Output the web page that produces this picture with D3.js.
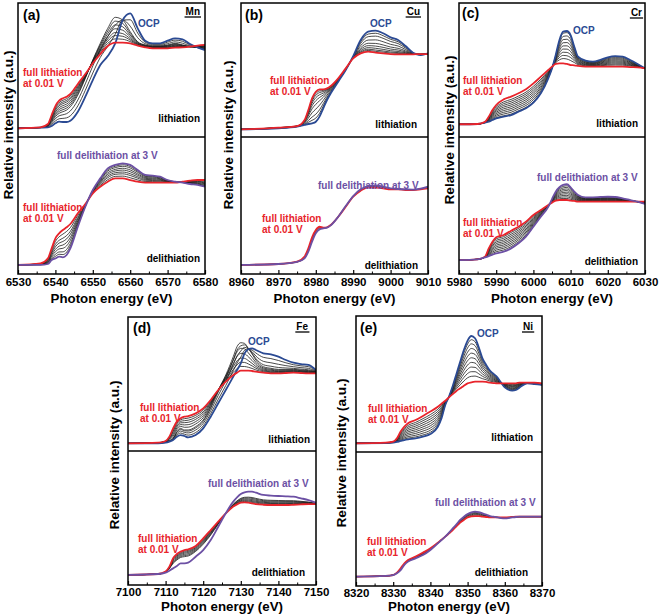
<!DOCTYPE html>
<html>
<head>
<meta charset="utf-8">
<script src="https://cdn.jsdelivr.net/npm/d3@7"></script>
<style>
  body { margin: 0; background: #fff; }
  svg { display: block; font-family: "Liberation Sans", Arial, sans-serif; font-weight: bold; }
</style>
</head>
<body>
<svg id="chart" width="660" height="615"></svg>
<script>
// ---- data (relative intensity, % of sub-panel height) ----

// (a) Mn K-edge
const energyMn = [6530,6536,6538,6539,6540,6541,6542,6543,6544,6546,6548,6550,6552,6554,6556,6558,6560,6562,6564,6566,6568,6570,6572,6574,6576,6578,6580];
const mnLithOcp  = [6.5,7.0,7.2,8.2,10.2,11.4,11.2,11.2,12.2,18.9,30.1,42.5,53.7,60.4,69.9,87.3,92.3,81.1,71.9,69.9,69.9,71.9,73.6,72.9,69.4,66.9,64.9];
const mnLithMid  = [6.5,7.0,8.2,11.4,15.2,17.7,18.9,20.1,22.6,31.3,43.8,57.5,69.9,81.1,89.3,87.3,78.6,71.1,68.7,67.9,67.9,68.7,69.9,68.7,67.4,66.7,66.2];
const mnLithFull = [6.5,7.2,9.7,16.4,23.1,27.1,28.9,30.1,32.1,39.6,47.0,55.0,61.9,67.9,70.4,70.4,69.9,68.2,66.9,66.2,66.2,66.2,66.7,66.9,67.4,68.2,68.7];
const mnDelithStart = [6.6,7.8,11.4,18.7,26.0,29.7,32.1,34.1,36.5,44.3,51.1,58.9,63.7,67.4,69.8,69.8,68.6,67.4,66.7,66.7,66.7,66.7,66.7,67.4,68.1,68.6,68.6];
const mnDelithEnd   = [6.6,6.6,7.3,10.2,11.4,12.7,12.2,13.9,18.7,34.5,49.1,61.3,69.8,77.1,79.6,80.8,79.6,75.9,72.3,71.8,71.0,68.6,67.4,66.7,65.7,65.0,63.7];
const mnLithSteps   = [0.35,0.7,1.0,1.15,1.3,1.45,1.6,1.72,1.85];
const mnDelithSteps = [0.15,0.3,0.42,0.55,0.67,0.8,0.9];

// (b) Cu K-edge
const energyCu = [8960,8970,8975,8977,8978,8979,8980,8981,8982,8983,8984,8986,8988,8990,8992,8994,8996,8998,9000,9002,9004,9006,9008,9010];
const cuLithOcp  = [5.7,6.5,7.7,9.0,9.7,10.2,11.4,15.2,21.4,27.6,32.6,41.3,50.0,60.4,72.4,78.6,79.4,77.4,74.4,72.4,67.9,62.9,61.2,62.4];
const cuLithFull = [5.7,7.0,8.2,12.7,20.1,28.9,33.8,35.6,35.6,36.3,38.1,43.8,51.2,58.7,62.4,63.7,62.9,62.4,61.9,61.7,61.7,61.7,61.9,61.9];
const cuDelithStart = [6.6,7.3,9.0,12.7,18.7,26.8,32.1,34.5,33.8,34.1,35.8,41.8,49.1,56.4,60.8,63.3,63.0,62.5,61.8,61.8,61.3,61.3,61.8,62.5];
const cuDelithEnd   = [6.6,7.3,8.8,11.4,16.3,23.6,29.7,32.6,33.3,33.8,35.5,41.8,49.6,56.9,61.8,64.2,64.7,63.7,62.5,62.0,61.8,61.6,62.3,63.7];
const cuLithSteps   = [0.12,0.25,0.42,0.58,0.7,0.8,0.88,0.94];
const cuDelithSteps = [0.33,0.66];

// (c) Cr K-edge
const energyCr = [5980,5985,5987,5988,5989,5990,5992,5994,5996,5998,6000,6002,6004,6005,6006,6007,6008,6009,6010,6011,6012,6014,6016,6018,6020,6022,6024,6026,6028,6030];
const crLithOcp  = [9.5,9.7,10.7,11.4,12.7,13.9,15.2,16.4,18.9,21.4,25.6,32.6,43.8,51.2,61.2,72.4,78.6,79.1,76.1,67.4,59.9,57.0,56.2,57.5,59.5,60.4,59.9,57.5,54.5,51.2];
const crLithFull = [9.5,9.7,11.4,15.2,20.1,23.9,28.1,30.1,32.6,35.6,40.0,45.0,50.0,52.5,54.5,55.0,55.0,54.5,53.7,53.5,53.0,52.5,52.5,52.5,52.5,52.5,52.5,52.2,52.0,51.2];
const crDelithStart = [10.2,10.7,12.7,18.7,23.6,26.8,28.5,31.6,34.5,38.2,43.1,46.7,50.4,52.1,53.5,54.0,54.0,54.0,53.5,53.3,52.8,52.8,52.8,52.8,52.8,52.8,52.8,52.8,52.8,52.8];
const crDelithEnd   = [10.2,10.7,12.2,13.1,14.1,15.1,16.3,18.7,22.4,27.3,34.5,41.8,49.1,54.7,60.1,63.3,65.0,65.5,63.3,60.1,57.7,56.0,56.0,56.2,56.4,56.2,55.2,54.0,52.8,51.1];
const crLithSteps   = [0.05,0.15,0.25,0.35,0.45,0.55,0.65,0.75,0.85];
const crDelithSteps = [0.1,0.2,0.3,0.4,0.5,0.6,0.7,0.8,0.9];

// (d) Fe K-edge
const energyFe = [7100,7108,7110,7111,7112,7113,7114,7115,7116,7118,7120,7122,7124,7126,7128,7129,7130,7131,7132,7133,7134,7136,7138,7140,7142,7144,7146,7148,7150];
const feLithOcp  = [5.7,5.7,6.2,7.0,8.2,10.7,11.9,11.2,10.2,11.9,16.9,25.6,35.6,45.5,55.5,60.4,65.4,72.9,75.9,76.6,75.4,72.9,72.1,70.4,67.9,65.9,64.9,64.2,60.4];
const feLithMid  = [5.7,6.2,6.7,7.5,9.5,14.4,16.9,15.7,15.7,18.2,23.1,33.1,45.5,56.7,70.4,77.9,80.8,80.3,76.6,72.4,67.9,62.9,61.7,60.9,60.9,60.9,60.4,60.0,59.2];
const feLithFull = [5.7,6.2,7.5,10.7,16.9,21.9,24.4,25.6,26.1,28.1,31.8,38.1,45.5,51.7,56.7,58.5,60.0,60.0,60.0,59.7,59.2,58.5,58.0,58.0,58.2,58.5,58.2,58.0,58.0];
const feDelithStart = [7.5,8.2,10.0,13.7,19.9,23.1,24.9,26.1,26.6,29.1,34.8,41.0,47.3,53.5,58.5,60.2,61.4,61.7,61.4,60.9,60.4,59.9,59.7,59.7,59.7,59.9,60.2,60.4,60.4];
const feDelithEnd   = [7.5,8.2,9.2,10.7,12.4,14.2,16.2,16.2,16.7,21.1,26.1,33.6,43.5,53.5,62.2,65.4,67.9,69.2,69.7,69.7,68.9,67.2,66.7,66.4,66.2,65.9,64.7,63.4,61.4];
const feLithSteps   = [0.3,0.6,0.85,1.0,1.2,1.38,1.55,1.7,1.85];
const feDelithSteps = [0.08,0.16,0.24,0.33,0.42,0.5];

// (e) Ni K-edge
const energyNi = [8320,8328,8330,8331,8332,8333,8334,8336,8338,8340,8342,8343,8344,8345,8346,8347,8348,8349,8350,8351,8352,8353,8354,8355,8356,8357,8358,8359,8360,8362,8363,8364,8366,8368,8370];
const niLithOcp  = [6.4,6.6,6.9,7.4,8.1,8.8,9.3,10.0,11.3,13.2,18.6,24.8,34.6,40.7,48.5,57.4,66.4,75.0,81.9,85.3,83.6,77.0,68.9,64.0,59.8,57.4,54.9,51.0,47.5,45.1,45.6,47.5,50.5,50.0,49.3];
const niLithFull = [6.4,6.9,7.6,10.0,15.0,18.6,21.1,23.5,26.5,29.7,33.3,35.5,37.7,40.2,42.6,44.9,46.8,48.8,50.5,51.2,51.7,51.7,51.7,51.5,51.0,50.7,50.5,50.5,50.5,50.5,50.5,51.0,51.0,51.0,50.5];
const niDelithStart = [7.0,7.5,8.2,10.0,13.2,16.9,19.4,21.9,24.9,28.1,32.3,34.6,36.8,39.3,41.8,44.5,47.3,49.3,51.2,52.0,52.2,52.2,51.7,51.5,51.2,51.2,51.2,51.2,51.2,51.5,51.7,51.7,51.7,51.7,51.7];
const niDelithEnd   = [7.0,7.5,8.2,9.5,11.9,15.7,18.2,20.6,23.1,26.9,31.8,34.3,36.8,39.8,43.0,46.0,49.3,51.7,53.7,55.0,55.5,55.2,54.2,53.2,52.2,51.7,51.2,50.7,50.5,51.2,51.5,51.7,51.7,51.7,51.7];
const niLithSteps   = [0.08,0.17,0.27,0.37,0.47,0.57,0.67,0.77,0.87];
const niDelithSteps = [0.2,0.4,0.6,0.8];

// ---- colours ----
const RED = "#e8242b", BLUE = "#2b4a93", PURPLE = "#6c50a4", GREY = "#1c1c1c";

// ---- panel layout (frame position, annotation offsets relative to the frame) ----
const panels = [
  { tag: "(a)", el: "Mn", left: 18, top: 3, w: 187, h: 271, split: 134, energies: energyMn,
    lith: { anchors: [mnLithOcp, mnLithMid, mnLithFull], steps: mnLithSteps },
    delith: { anchors: [mnDelithStart, mnDelithEnd], steps: mnDelithSteps },
    yLab: [-10, 122], titleDy: 24, tickPad: 4,
    ann: { tag: [5, 12], el: [5, 8], ocp: [120, 20], lith: [5, 69], lithW: [5, 115], del3: [39, 152], lithB: [5, 204], delW: [5, 255] } },
  { tag: "(b)", el: "Cu", left: 241, top: 3, w: 187, h: 271, split: 134, energies: energyCu,
    lith: { anchors: [cuLithOcp, cuLithFull], steps: cuLithSteps },
    delith: { anchors: [cuDelithStart, cuDelithEnd], steps: cuDelithSteps },
    yLab: [-13, 132], titleDy: 24, tickPad: 4,
    ann: { tag: [4, 12], el: [8, 8], ocp: [129, 20], lith: [29, 77], lithW: [11, 121], del3: [77, 182], lithB: [21, 215], delW: [10, 262] } },
  { tag: "(c)", el: "Cr", left: 459, top: 3, w: 186, h: 271, split: 134, energies: energyCr,
    lith: { anchors: [crLithOcp, crLithFull], steps: crLithSteps },
    delith: { anchors: [crDelithStart, crDelithEnd], steps: crDelithSteps },
    yLab: [-10, 127], titleDy: 24, tickPad: 4,
    ann: { tag: [3, 10], el: [3, 9], ocp: [114, 27], lith: [4, 77], lithW: [7, 120], del3: [78, 174], lithB: [4, 219], delW: [7, 258] } },
  { tag: "(d)", el: "Fe", left: 128, top: 317, w: 188, h: 268, split: 134, energies: energyFe,
    lith: { anchors: [feLithOcp, feLithMid, feLithFull], steps: feLithSteps },
    delith: { anchors: [feDelithStart, feDelithEnd], steps: feDelithSteps },
    yLab: [-14, 138], titleDy: 21, tickPad: 3,
    ann: { tag: [5, 11], el: [8, 9], ocp: [120, 24], lith: [12, 90], lithW: [6, 122], del3: [80, 166], lithB: [10, 221], delW: [11, 255] } },
  { tag: "(e)", el: "Ni", left: 356, top: 316, w: 186, h: 270, split: 136, energies: energyNi,
    lith: { anchors: [niLithOcp, niLithFull], steps: niLithSteps },
    delith: { anchors: [niDelithStart, niDelithEnd], steps: niDelithSteps },
    yLab: [-15, 137], titleDy: 20, tickPad: 3,
    ann: { tag: [4, 12], el: [9, 10], ocp: [121, 17], lith: [12, 92], lithW: [9, 121], del3: [79, 186], lithB: [11, 225], delW: [14, 256] } }
];

const svg = d3.select("#chart");

// curve part-way along the chain of key spectra
function mix(anchors, s) {
  const i = Math.min(Math.floor(s), anchors.length - 2);
  const t = s - i;
  return anchors[i].map((v, k) => v * (1 - t) + anchors[i + 1][k] * t);
}

function label(g, x, y, txt, opts) {
  return g.append("text")
    .attr("x", x).attr("y", y).attr("dy", "0.35em")
    .attr("text-anchor", opts.anchor || "start")
    .style("font-size", (opts.size || 10) + "px")
    .attr("fill", opts.color || "#000")
    .text(txt);
}

panels.forEach((p, pi) => {
  const g = svg.append("g").attr("transform", `translate(${p.left},${p.top})`);
  const dom = d3.extent(p.energies);
  const x = d3.scaleLinear().domain(dom).range([0, p.w]);

  g.append("clipPath").attr("id", "clip" + pi)
    .append("rect").attr("width", p.w).attr("height", p.h);

  const subs = [
    { y0: 0, y1: p.split, set: p.lith, c0: BLUE, c1: RED },
    { y0: p.split, y1: p.h, set: p.delith, c0: RED, c1: PURPLE }
  ];

  subs.forEach(s => {
    const y = d3.scaleLinear().domain([0, 100]).range([s.y1, s.y0]);
    const line = d3.line()
      .x((d, i) => x(p.energies[i]))
      .y(d => y(d))
      .curve(d3.curveMonotoneX);
    const cg = g.append("g").attr("clip-path", `url(#clip${pi})`);

    s.set.steps.forEach(st => {
      cg.append("path")
        .attr("d", line(mix(s.set.anchors, st)))
        .attr("fill", "none").attr("stroke", GREY).attr("stroke-width", 0.8);
    });
    const first = s.set.anchors[0];
    const last = s.set.anchors[s.set.anchors.length - 1];
    cg.append("path").attr("d", line(first))
      .attr("fill", "none").attr("stroke", s.c0).attr("stroke-width", 1.8);
    cg.append("path").attr("d", line(last))
      .attr("fill", "none").attr("stroke", s.c1).attr("stroke-width", 1.8);
  });

  // frame + divider
  g.append("rect").attr("width", p.w).attr("height", p.h)
    .attr("fill", "none").attr("stroke", "#000").attr("stroke-width", 1.5);
  g.append("line").attr("x1", 0).attr("x2", p.w).attr("y1", p.split).attr("y2", p.split)
    .attr("stroke", "#000").attr("stroke-width", 1.5);

  // x axis, ticks pointing in
  const major = d3.range(dom[0], dom[1] + 1, 10);
  const minor = d3.range(dom[0] + 5, dom[1], 10);
  const ax = g.append("g").attr("transform", `translate(0,${p.h})`)
    .call(d3.axisBottom(x).tickValues(major).tickFormat(d3.format("d")).tickSize(-4).tickSizeOuter(0).tickPadding(p.tickPad));
  ax.select(".domain").remove();
  ax.selectAll("line").attr("stroke-width", 1.2);
  ax.selectAll("text").style("font-size", "11.5px").attr("fill", "#000")
    .style("font-family", '"Liberation Sans", Arial, sans-serif').style("font-weight", "bold");
  const mx = g.append("g").attr("transform", `translate(0,${p.h})`)
    .call(d3.axisBottom(x).tickValues(minor).tickFormat("").tickSize(-2.5).tickSizeOuter(0));
  mx.select(".domain").remove();

  // axis titles
  label(g, p.w / 2, p.h + p.titleDy, "Photon energy (eV)", { anchor: "middle", size: 13.3 });
  g.append("text")
    .attr("transform", `translate(${p.yLab[0]},${p.yLab[1]}) rotate(-90)`)
    .attr("text-anchor", "middle").attr("dy", "0.35em")
    .style("font-size", "13.7px")
    .text("Relative intensity (a.u.)");

  // annotations
  const a = p.ann;
  label(g, a.tag[0], a.tag[1], p.tag, { size: 14 });
  const el = label(g, p.w - a.el[0], a.el[1], p.el, { anchor: "end", size: 10 });
  const bb = el.node().getBBox();
  g.append("line").attr("x1", bb.x - 1).attr("x2", bb.x + bb.width + 1)
    .attr("y1", bb.y + bb.height + 0.5).attr("y2", bb.y + bb.height + 0.5)
    .attr("stroke", "#000").attr("stroke-width", 1.3);
  label(g, a.ocp[0], a.ocp[1], "OCP", { color: BLUE });
  label(g, a.lith[0], a.lith[1], "full lithiation", { color: RED });
  label(g, a.lith[0], a.lith[1] + 11, "at 0.01 V", { color: RED });
  label(g, p.w - a.lithW[0], a.lithW[1], "lithiation", { anchor: "end" });
  label(g, a.del3[0], a.del3[1], "full delithiation at 3 V", { color: PURPLE });
  label(g, a.lithB[0], a.lithB[1], "full lithiation", { color: RED });
  label(g, a.lithB[0], a.lithB[1] + 11, "at 0.01 V", { color: RED });
  label(g, p.w - a.delW[0], a.delW[1], "delithiation", { anchor: "end" });
});
</script>
</body>
</html>
